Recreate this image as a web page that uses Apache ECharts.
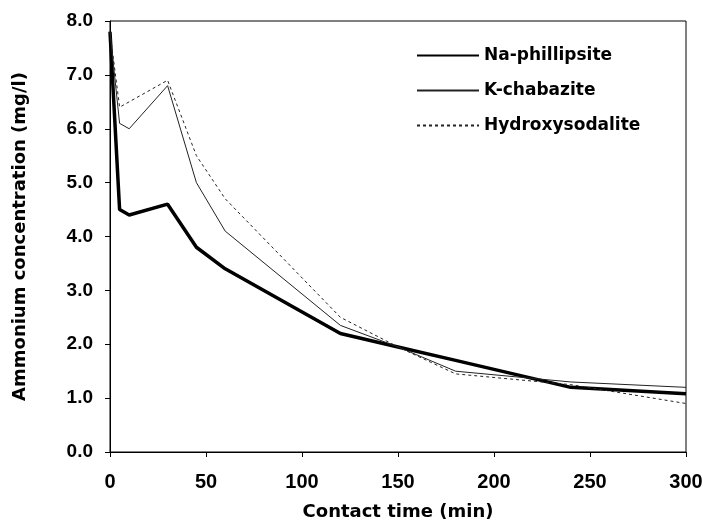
<!DOCTYPE html>
<html>
<head>
<meta charset="utf-8">
<script src="https://cdn.jsdelivr.net/npm/echarts@6/dist/echarts.min.js"></script>
<style>
  html, body { margin: 0; padding: 0; background: #fff; }
  #chart { width: 703px; height: 527px; }
</style>
</head>
<body>
<div id="chart"></div>
<script>
// contact time (min)
const times = [0, 5, 10, 30, 45, 60, 120, 150, 180, 240, 300];
const naPhillipsite = [7.8, 4.5, 4.4, 4.6, 3.8, 3.4, 2.2, 1.95, 1.7, 1.2, 1.08];
const kChabazite = [7.8, 6.1, 6.0, 6.8, 5.0, 4.1, 2.35, 1.95, 1.5, 1.3, 1.2];
const hydroxysodalite = [7.8, 6.4, 6.5, 6.9, 5.5, 4.7, 2.5, 1.95, 1.45, 1.25, 0.9];

const pairs = (ys) => times.map((t, i) => [t, ys[i]]);
const font = "'Liberation Sans', Arial, sans-serif";
const wideFont = "'DejaVu Sans', sans-serif";

const chart = echarts.init(document.getElementById("chart"));
chart.setOption({
  animation: false,
  grid: {
    left: 110,
    right: 17,
    top: 21,
    bottom: 75,
    outerBoundsMode: "none",
    show: true,
    borderColor: "#000",
    borderWidth: 1,
  },
  legend: {
    orient: "vertical",
    left: 411,
    top: 42,
    itemWidth: 62,
    itemHeight: 18,
    itemGap: 18,
    itemStyle: { color: "rgba(0,0,0,0)", borderWidth: 0, opacity: 0 },
    textStyle: {
      fontFamily: wideFont,
      fontWeight: "bold",
      fontSize: 17,
      color: "#000",
    },
    data: ["Na-phillipsite", "K-chabazite", "Hydroxysodalite"],
  },
  xAxis: {
    type: "value",
    min: 0,
    max: 300,
    interval: 50,
    name: "Contact time (min)",
    nameLocation: "middle",
    nameGap: 51,
    nameTextStyle: {
      fontFamily: wideFont,
      fontWeight: "bold",
      fontSize: 18,
      color: "#000",
    },
    axisLine: { lineStyle: { color: "#000", width: 1 } },
    axisTick: { show: true, length: 5, lineStyle: { color: "#000" } },
    axisLabel: {
      fontFamily: font,
      fontWeight: "bold",
      fontSize: 20,
      color: "#000",
      margin: 20,
    },
    splitLine: { show: false },
  },
  yAxis: {
    type: "value",
    min: 0,
    max: 8,
    interval: 1,
    name: "Ammonium concentration (mg/l)",
    nameLocation: "middle",
    nameGap: 81,
    nameTextStyle: {
      fontFamily: wideFont,
      fontWeight: "bold",
      fontSize: 18,
      color: "#000",
    },
    axisLine: { show: true, lineStyle: { color: "#000", width: 1 } },
    axisTick: { show: true, length: 5, lineStyle: { color: "#000" } },
    axisLabel: {
      fontFamily: font,
      fontWeight: "bold",
      fontSize: 19,
      color: "#000",
      margin: 17,
      formatter: (v) => v.toFixed(1),
    },
    splitLine: { show: false },
  },
  series: [
    {
      name: "Na-phillipsite",
      type: "line",
      symbol: "none",
      data: pairs(naPhillipsite),
      lineStyle: { color: "#000", width: 3.5 },
      itemStyle: { color: "#000" },
    },
    {
      name: "K-chabazite",
      type: "line",
      symbol: "none",
      data: pairs(kChabazite),
      lineStyle: { color: "#222", width: 1 },
      itemStyle: { color: "#222" },
    },
    {
      name: "Hydroxysodalite",
      type: "line",
      symbol: "none",
      data: pairs(hydroxysodalite),
      lineStyle: { color: "#222", width: 1, type: [3, 3] },
      itemStyle: { color: "#222" },
    },
  ],
});
</script>
</body>
</html>
